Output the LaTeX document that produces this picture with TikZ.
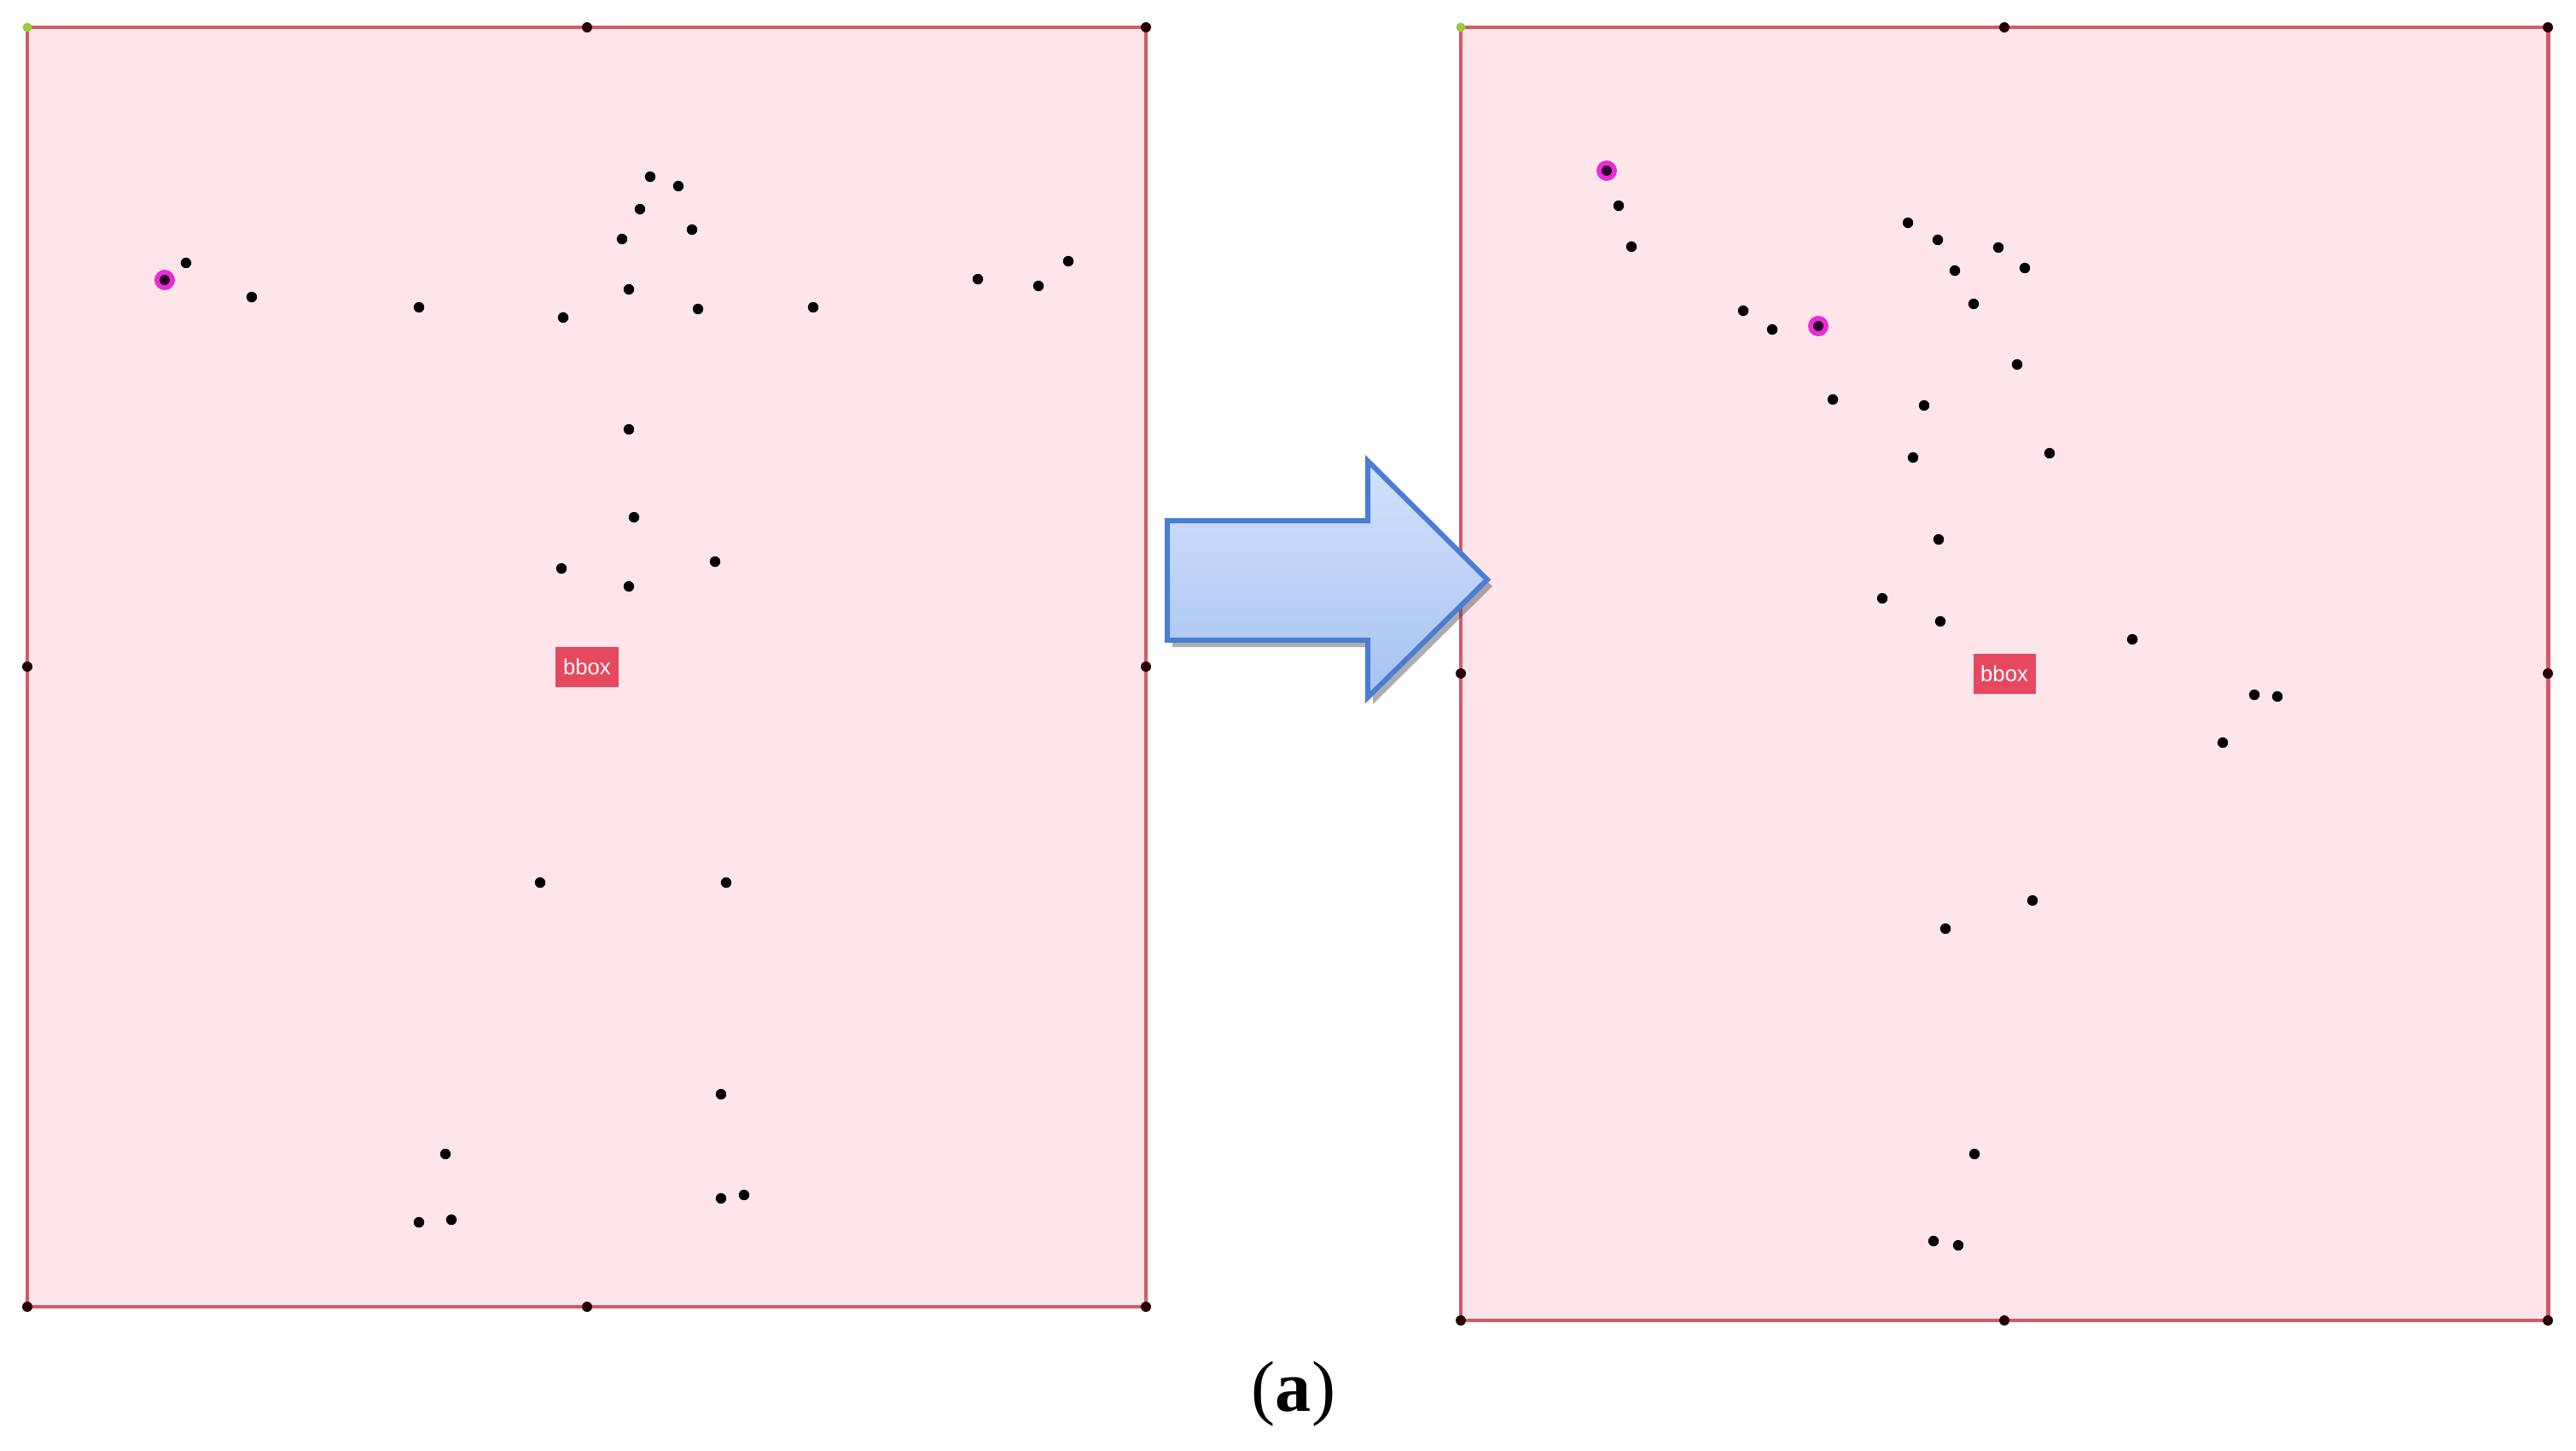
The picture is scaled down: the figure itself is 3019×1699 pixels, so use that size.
\documentclass[tikz,border=0pt]{standalone}
\usepackage{fontspec}
\setmainfont{Liberation Serif}
\setsansfont{Liberation Sans}
\usetikzlibrary{shadows}
\definecolor{boxfill}{HTML}{FDE5E9}
\definecolor{boxline}{HTML}{D25A66}
\definecolor{tagfill}{HTML}{E6485F}
\definecolor{arrline}{HTML}{4A7ED4}
\definecolor{arrtop}{HTML}{D3E2FB}
\definecolor{arrbot}{HTML}{A7C2F3}
\definecolor{cornergreen}{HTML}{9CC83A}
\definecolor{magentadot}{HTML}{E619D2}
\tikzset{
  frame/.style={draw=boxline, line width=1.4pt, fill=boxfill},
  tag/.style={fill=tagfill, text=white, font=\sffamily\fontsize{7.3}{8}\selectfont,
    minimum width=0.73cm, minimum height=0.47cm, inner sep=0pt},
  kp/.style={fill=black},
  edgept/.style={fill=black!85!red},
}
\newcommand{\kpt}[2]{\fill[kp] (#1,#2) circle (6.2);}
\newcommand{\ept}[2]{\fill[edgept] (#1,#2) circle (6);}
\newcommand{\mpt}[2]{\fill[magentadot, opacity=0.9] (#1,#2) circle (12);\fill[black!80!magentadot] (#1,#2) circle (6);}
\begin{document}
\begin{tikzpicture}[x=0.01cm, y=-0.01cm]
\useasboundingbox (0,0) rectangle (3019,1699);
% left frame
\draw[frame] (32,32) rectangle (1343,1531);
\foreach \p in {(688,32),(1343,32),(32,781),(1343,781),(32,1531),(688,1531),(1343,1531)} \fill[edgept] \p circle (6);
\fill[cornergreen] (32,32) circle (5.5);
\node[tag] (bboxL) at (688,781) {bbox};
% left keypoints
\mpt{193}{328}
\foreach \p in {(218,308),(295,348),(491,360),(660,372),(737,339),(818,362),(953,360),
  (1146,327),(1217,335),(1252,306),
  (762,207),(795,218),(750,245),(811,269),(729,280),
  (737,503),(743,606),(658,666),(737,687),(838,658),
  (633,1034),(851,1034),(845,1282),(522,1352),(491,1432),(529,1429),(845,1404),(872,1400)}
  \fill[kp] \p circle (6.2);
% right frame
\draw[frame] (1712,32) rectangle (2986,1547);
\foreach \p in {(2349,32),(2986,32),(1712,789),(2986,789),(1712,1547),(2349,1547),(2986,1547)} \fill[edgept] \p circle (6);
\fill[cornergreen] (1712,32) circle (5.5);
\node[tag] (bboxR) at (2349,789) {bbox};
% right keypoints
\mpt{1883}{200}
\mpt{2131}{382}
\foreach \p in {(1897,241),(1912,289),
  (2236,261),(2271,281),(2342,290),(2291,317),(2373,314),(2313,356),
  (2043,364),(2077,386),(2364,427),(2148,468),(2255,475),(2402,531),(2242,536),
  (2272,632),(2206,701),(2274,728),(2499,749),(2642,814),(2669,816),(2605,870),
  (2382,1055),(2280,1088),(2314,1352),(2266,1454),(2295,1459)}
  \fill[kp] \p circle (6.2);
% big arrow
\path[draw=arrline, line width=1.7pt, line join=miter, top color=arrtop, bottom color=arrbot,
  drop shadow={shadow xshift=0.06cm, shadow yshift=-0.08cm, opacity=0.45, fill=black!70}]
  (1368,610) -- (1603,610) -- (1603,540) -- (1743,679) -- (1603,817) -- (1603,750) -- (1368,750) -- cycle;
% caption
\node[font=\fontsize{24}{28}\selectfont, inner sep=0pt] (cap) at (1516,1633) {(\textbf{a})};
\end{tikzpicture}
\end{document}
